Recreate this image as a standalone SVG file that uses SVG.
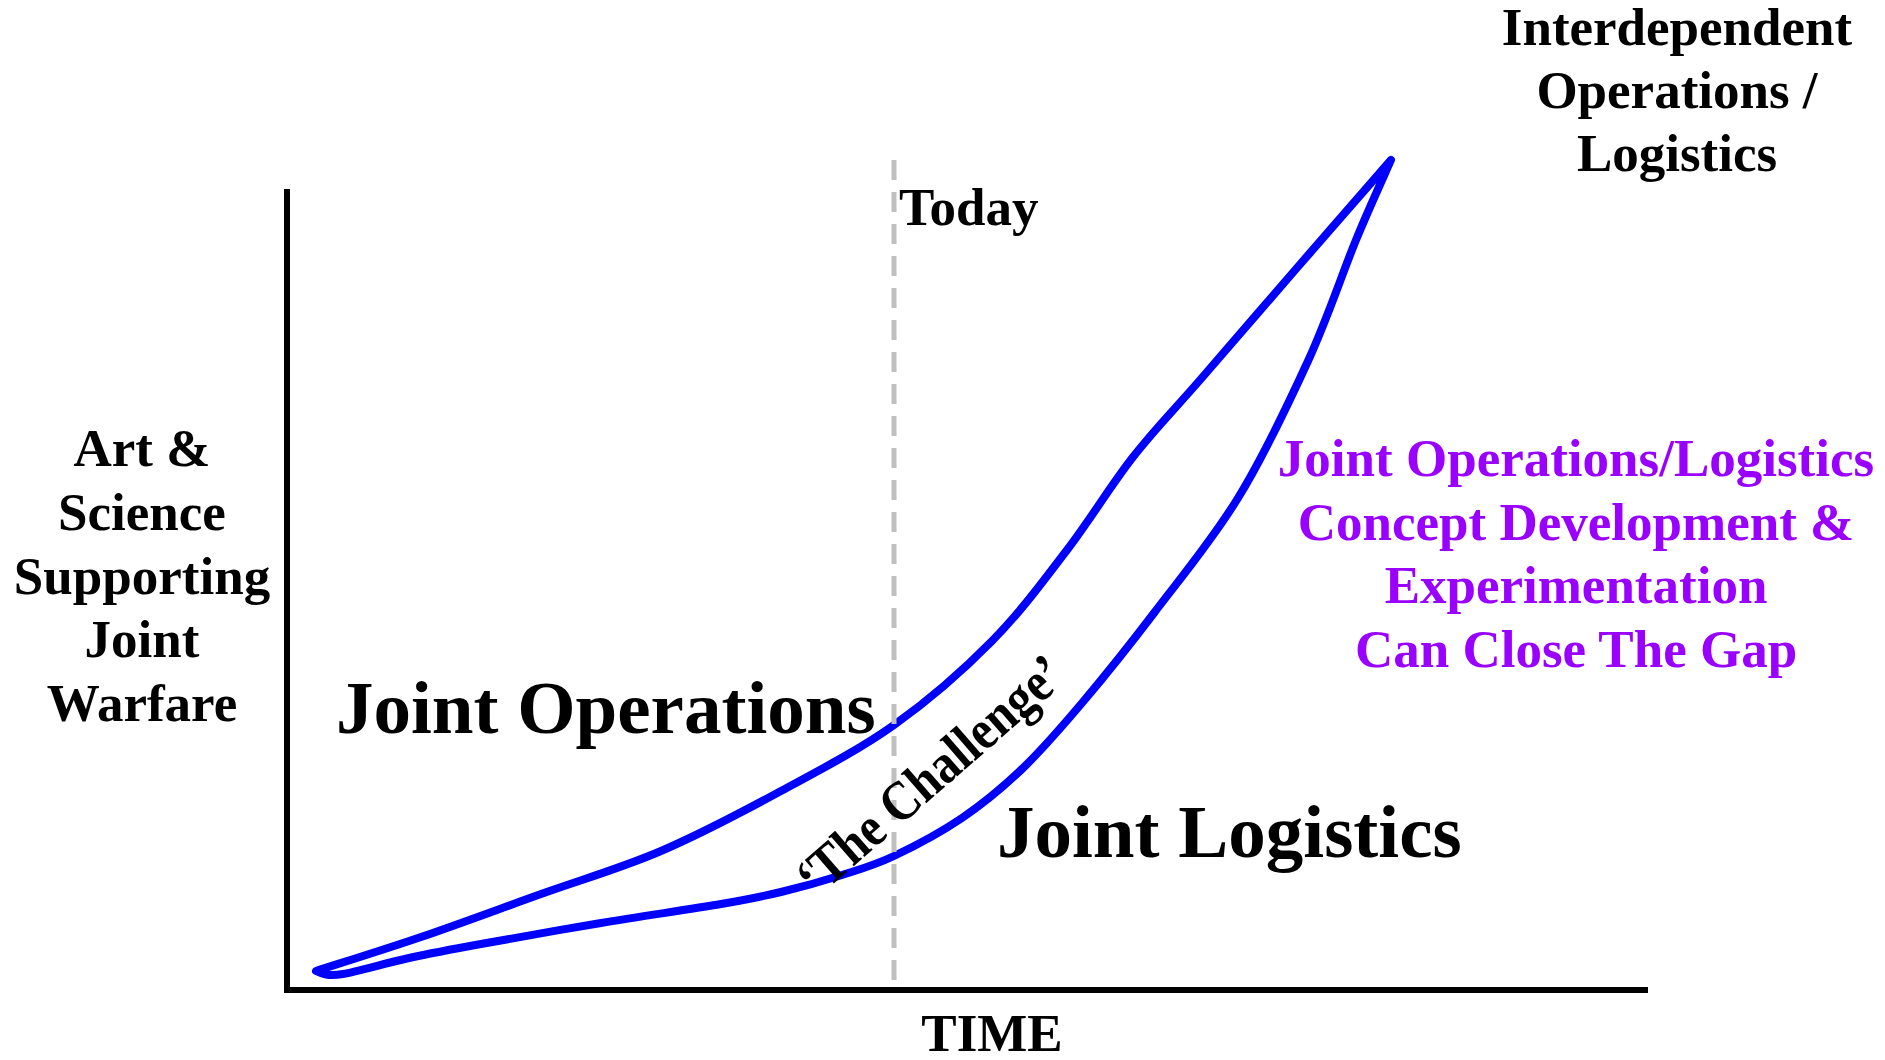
<svg xmlns="http://www.w3.org/2000/svg" width="1885" height="1060" viewBox="0 0 1885 1060">
<style>
text{font-family:"Liberation Serif","Times New Roman",serif;font-weight:bold;fill:#000}
.lbl{font-size:53px}
.big{font-size:75px}
.pur{fill:#9900ff;font-size:53px}
.axis{stroke:#000;stroke-width:6;fill:none}
.curve{stroke:#0000ff;stroke-width:8;fill:none;stroke-linejoin:round;stroke-linecap:round}
.today{stroke:#c0c0c0;stroke-width:5;stroke-dasharray:20 12;fill:none}
</style>
<rect width="1885" height="1060" fill="#fff"/>
<g id="axes">
<path class="axis" d="M287,189 V990 H1648"/>
</g>
<g id="connectors">
<path id="gap-band" class="curve" d="M316,971 C333.5,965.3 383.5,949.8 421,937 C458.5,924.2 501,908.3 541,894 C581,879.7 621,868.2 661,851 C701,833.8 742.2,812 781,791 C819.8,770 858.8,750 894,725 C929.2,700 963.2,670.2 992,641 C1020.8,611.8 1043.5,580.7 1067,550 C1090.5,519.3 1110.8,485.3 1133,457 C1155.2,428.7 1172.8,411.3 1200,380 C1227.2,348.7 1264.2,305.7 1296,269 C1327.8,232.3 1375.2,178.2 1391,160 C1385.2,173.3 1369.8,206.5 1356,240 C1342.2,273.5 1327.7,318 1308,361 C1288.3,404 1263.7,456 1238,498 C1212.3,540 1180,578.8 1154,613 C1128,647.2 1104,677 1082,703 C1060,729 1042,749.8 1022,769 C1002,788.2 983.3,803.5 962,818 C940.7,832.5 914,846.5 894,856 C874,865.5 860.8,869 842,875 C823.2,881 801.2,887.2 781,892 C760.8,896.8 751,898.8 721,904 C691,909.2 641,916.3 601,923 C561,929.7 513,938.2 481,944 C449,949.8 432,953 409,958 C386,963 358.2,971.3 343,974 C327.8,976.7 322.2,974 316,971 Z"/>
</g>
<g id="today-line">
<path class="today" d="M894,160 V983"/>
</g>
<g id="today-label"><text class="lbl" x="899" y="225">Today</text></g>
<g id="y-label">
<text class="lbl" text-anchor="middle" x="142" y="466">Art &amp;</text>
<text class="lbl" text-anchor="middle" x="142" y="530">Science</text>
<text class="lbl" text-anchor="middle" x="142" y="594">Supporting</text>
<text class="lbl" text-anchor="middle" x="142" y="657">Joint</text>
<text class="lbl" text-anchor="middle" x="142" y="721">Warfare</text>
</g>
<g id="x-label"><text class="lbl" text-anchor="middle" x="992" y="1051">TIME</text></g>
<g id="peak-label">
<text class="lbl" text-anchor="middle" x="1677" y="45">Interdependent</text>
<text class="lbl" text-anchor="middle" x="1677" y="108">Operations /</text>
<text class="lbl" text-anchor="middle" x="1677" y="171">Logistics</text>
</g>
<g id="joint-operations"><text class="big" x="336" y="733">Joint Operations</text></g>
<g id="joint-logistics"><text class="big" x="997" y="857">Joint Logistics</text></g>
<g id="challenge"><text transform="translate(816,899) rotate(-41) scale(0.87,1)" style="font-size:56px">‘The Challenge’</text></g>
<g id="cde-note">
<text class="pur" text-anchor="middle" x="1576" y="476">Joint Operations/Logistics</text>
<text class="pur" text-anchor="middle" x="1576" y="540">Concept Development &amp;</text>
<text class="pur" text-anchor="middle" x="1576" y="603">Experimentation</text>
<text class="pur" text-anchor="middle" x="1576" y="667">Can Close The Gap</text>
</g>
</svg>
